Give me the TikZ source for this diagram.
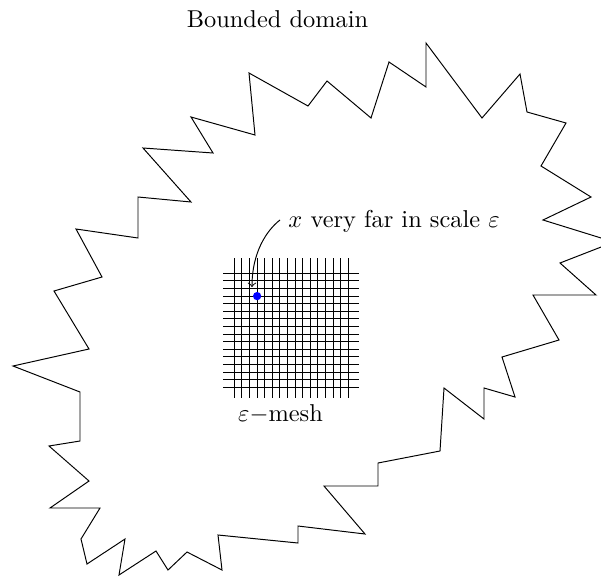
\documentclass[tikz,border=0pt]{standalone}
\begin{document}
\begin{tikzpicture}[x=0.41pt,y=-0.41pt,
  domainline/.style={draw=black, line width=0.4pt, line join=miter},
  meshline/.style={draw=black, line width=0.4pt},
  lbl/.style={inner sep=0pt},
  dotmark/.style={circle, fill=blue, inner sep=0pt, minimum size=3.4pt}]
\clip (0,0) rectangle (601,576);
\draw[domainline] (249,73) -- (308,106) -- (327,81) -- (371,118) -- (389,62) -- (426,87) -- (426,43)
  -- (482,118) -- (520,74) -- (527,112) -- (566,123) -- (541,166) -- (591,197) -- (543,220)
  -- (614,242) -- (560,263) -- (596,295) -- (533,295) -- (559,340) -- (502,357) -- (515,397)
  -- (484,388) -- (484,419) -- (444,388) -- (440,451) -- (378,463) -- (378,486) -- (324,486)
  -- (365,534) -- (298,526) -- (298,543) -- (218,535) -- (222,570) -- (187,552) -- (168,570)
  -- (156,551) -- (119,575) -- (125,539) -- (87,564) -- (81,539) -- (100,508) -- (50,508)
  -- (89,481) -- (49,446) -- (80,441) -- (80,392) -- (13,366) -- (89,349) -- (54,291)
  -- (102,277) -- (76,229) -- (138,238) -- (138,197) -- (191,202) -- (143,148) -- (213,153)
  -- (191,117) -- (255,135) -- cycle;
\foreach \i in {0,...,15} {
  \draw[meshline] ({234.3+7.6*\i},258) -- ({234.3+7.6*\i},397.7);
  \draw[meshline] (223,{273.3+7.6*\i}) -- (359,{273.3+7.6*\i});
}
\node[dotmark] (pt) at (257.1,296.1) {};
\node[lbl, anchor=base] (title) at (277.5,27) {Bounded domain};
\node[lbl, anchor=base west] (xlabel) at (288,227) {$x$ very far in scale $\varepsilon$};
\node[lbl, anchor=base] (meshlabel) at (280.5,421) {$\varepsilon-$mesh};
\coordinate (arrowstart) at (280,220);
\coordinate (arrowend) at (252,287);
\draw[->] (arrowstart) .. controls (267,230) and (252,252) .. (arrowend);
\end{tikzpicture}
\end{document}
